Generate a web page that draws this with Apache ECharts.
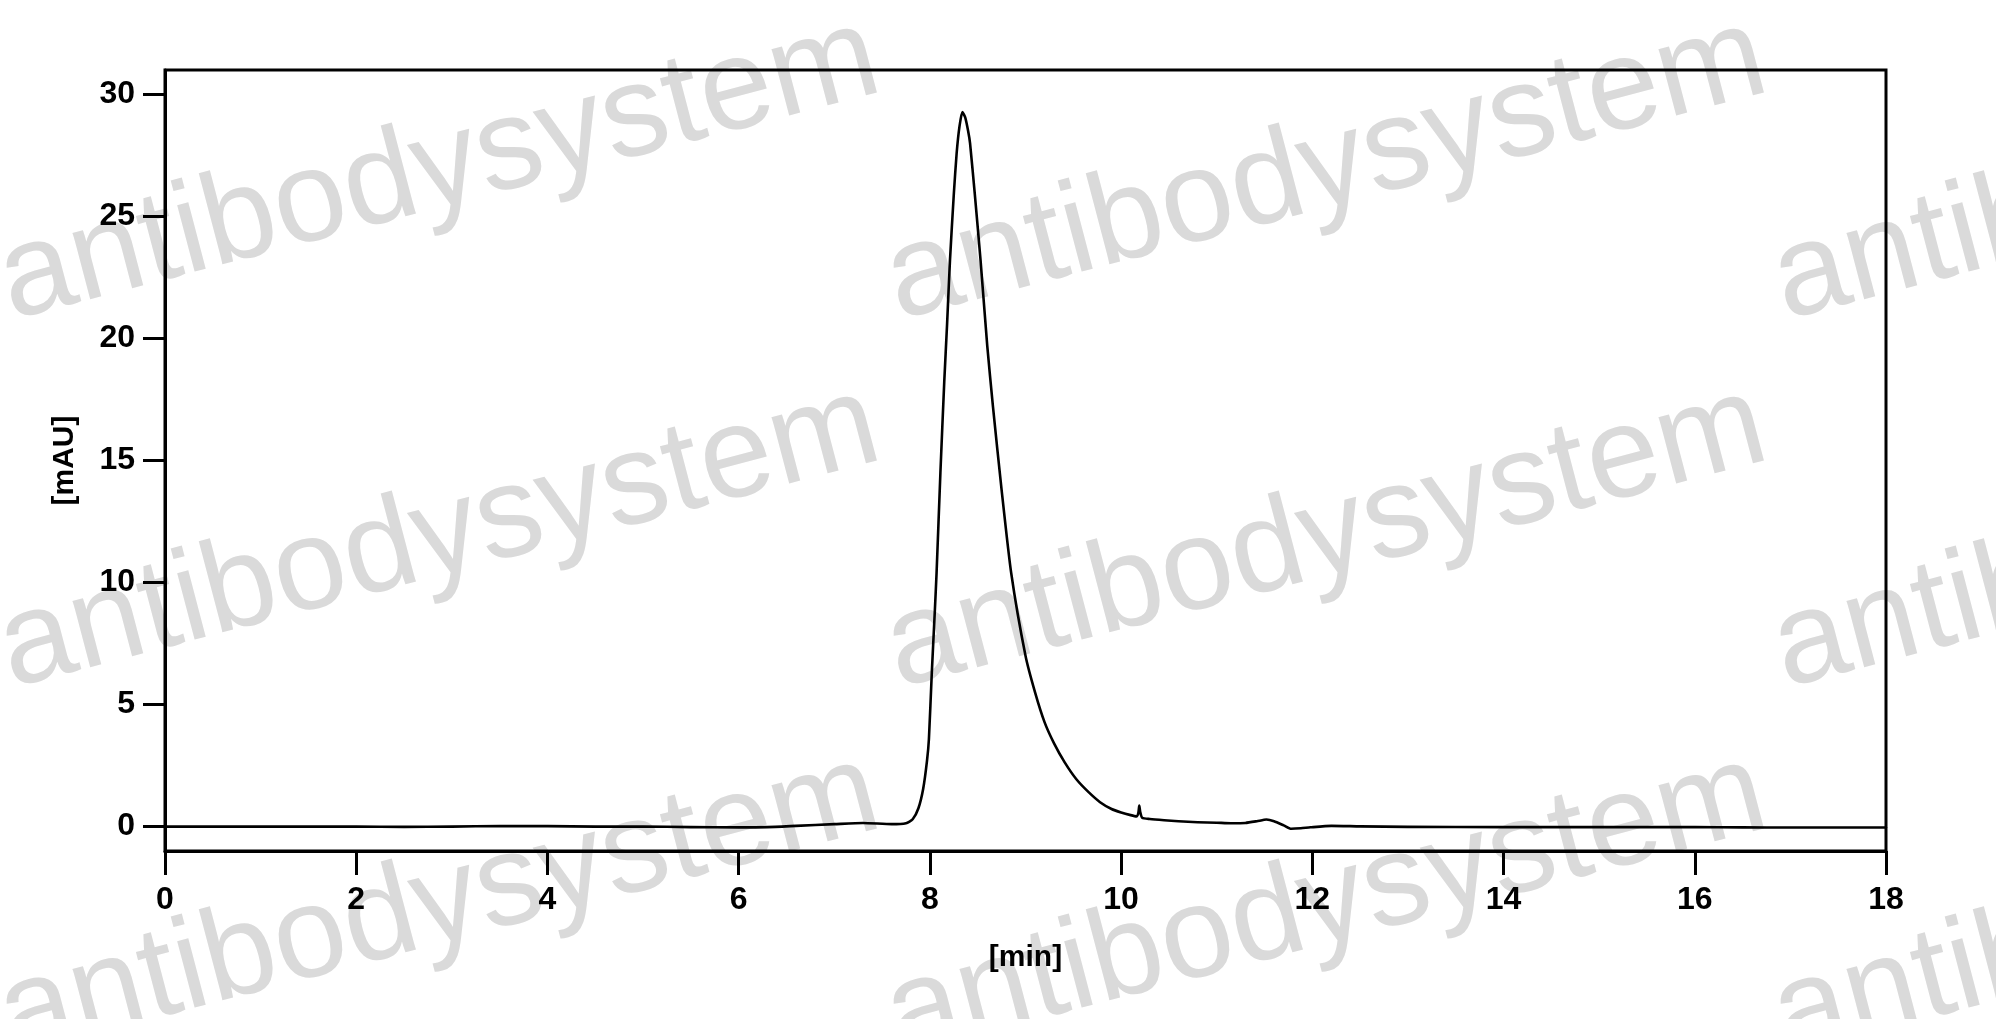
<!DOCTYPE html>
<html>
<head>
<meta charset="utf-8">
<script src="https://cdn.jsdelivr.net/npm/echarts@6/dist/echarts.min.js"></script>
<style>
html,body{margin:0;padding:0;background:#fff;}
#chart{width:1996px;height:1019px;}
</style>
</head>
<body>
<div id="chart"></div>
<script>
// retention time [min]
var times = [0, 0.5, 1, 1.5, 2, 2.5, 3, 3.5, 4, 4.5, 5, 5.5, 6, 6.3, 6.6, 7.0, 7.3, 7.6, 7.75, 7.82, 7.88, 7.93, 7.97, 7.99, 8.02, 8.05, 8.07, 8.11, 8.15, 8.18, 8.21, 8.25, 8.28, 8.31, 8.34, 8.37, 8.40, 8.42, 8.47, 8.53, 8.60, 8.66, 8.75, 8.85, 9.00, 9.10, 9.20, 9.30, 9.41, 9.53, 9.66, 9.78, 9.90, 10.0, 10.10, 10.16, 10.18, 10.19, 10.20, 10.22, 10.30, 10.45, 10.6, 10.8, 11.0, 11.15, 11.3, 11.42, 11.52, 11.6, 11.7, 11.78, 11.88, 11.98, 12.2, 12.5, 13, 14, 15, 16, 16.5, 17, 17.5, 18];
// absorbance [mAU]
var absorbance = [0, 0, 0, 0, 0, -0.01, 0, 0.02, 0.02, 0, 0, -0.02, -0.03, -0.02, 0.03, 0.1, 0.15, 0.1, 0.14, 0.3, 0.75, 1.55, 2.7, 3.6, 6.3, 8.7, 10.4, 14.5, 18.2, 20.6, 23.2, 25.9, 27.6, 28.7, 29.28, 29.05, 28.5, 28.0, 25.9, 23.2, 19.7, 17.2, 13.8, 10.4, 7.0, 5.5, 4.27, 3.4, 2.63, 1.95, 1.41, 1.0, 0.72, 0.58, 0.47, 0.42, 0.55, 0.86, 0.6, 0.36, 0.31, 0.26, 0.22, 0.18, 0.16, 0.14, 0.15, 0.22, 0.29, 0.22, 0.05, -0.09, -0.07, -0.03, 0.03, 0.01, -0.01, -0.02, -0.02, -0.02, -0.03, -0.04, -0.04, -0.04];
var yTicks = [0, 5, 10, 15, 20, 25, 30];
var xTitle = '[min]';
var yTitle = '[mAU]';
var watermark = 'antibodysystem';

var pts = times.map(function (t, i) { return [t, absorbance[i]]; });

var chart = echarts.init(document.getElementById('chart'));
var font = '"Liberation Sans", Arial, sans-serif';

var wm = [];
var colsX = [19, 906, 1793];
var rowsY = [348, 716, 1084];
rowsY.forEach(function (y) {
  colsX.forEach(function (x) {
    wm.push({
      type: 'text', x: x, y: y, rotation: 0.257, z: -10, silent: true,
      style: { text: watermark, fill: '#dadada', font: '130px ' + font, textAlign: 'left', textVerticalAlign: 'bottom', shadowBlur: 3, shadowColor: 'rgba(210,210,210,0.8)' }
    });
  });
});

chart.setOption({
  animation: false,
  backgroundColor: '#fff',
  graphic: wm,
  grid: { left: 165, right: 110, top: 70, bottom: 168, show: true, borderColor: '#000', borderWidth: 3, backgroundColor: 'transparent', z: 5 },
  xAxis: {
    type: 'value', min: 0, max: 18, interval: 2,
    name: xTitle, nameLocation: 'middle', nameGap: 92,
    nameTextStyle: { fontFamily: font, fontWeight: 'bold', fontSize: 30, color: '#000' },
    axisLine: { show: true, onZero: false, lineStyle: { color: '#000', width: 3 } },
    axisTick: { show: true, inside: false, length: 24, lineStyle: { color: '#000', width: 3 } },
    axisLabel: { fontFamily: font, fontWeight: 'bold', fontSize: 32, color: '#000', margin: 33 },
    splitLine: { show: false }
  },
  yAxis: {
    type: 'value', min: -1, max: 31,
    name: yTitle, nameLocation: 'middle', nameGap: 85, nameRotate: 90,
    nameTextStyle: { fontFamily: font, fontWeight: 'bold', fontSize: 30, color: '#000' },
    axisLine: { show: true, onZero: false, lineStyle: { color: '#000', width: 3 } },
    axisTick: { show: true, inside: false, length: 22, customValues: yTicks, lineStyle: { color: '#000', width: 3 } },
    axisLabel: { fontFamily: font, fontWeight: 'bold', fontSize: 32, color: '#000', margin: 30, customValues: yTicks },
    splitLine: { show: false }
  },
  series: [{
    type: 'line', data: pts, showSymbol: false, symbol: 'none',
    smooth: 0.2, z: 10,
    lineStyle: { color: '#000', width: 2.6, join: 'round', cap: 'round' }
  }]
});
</script>
</body>
</html>
